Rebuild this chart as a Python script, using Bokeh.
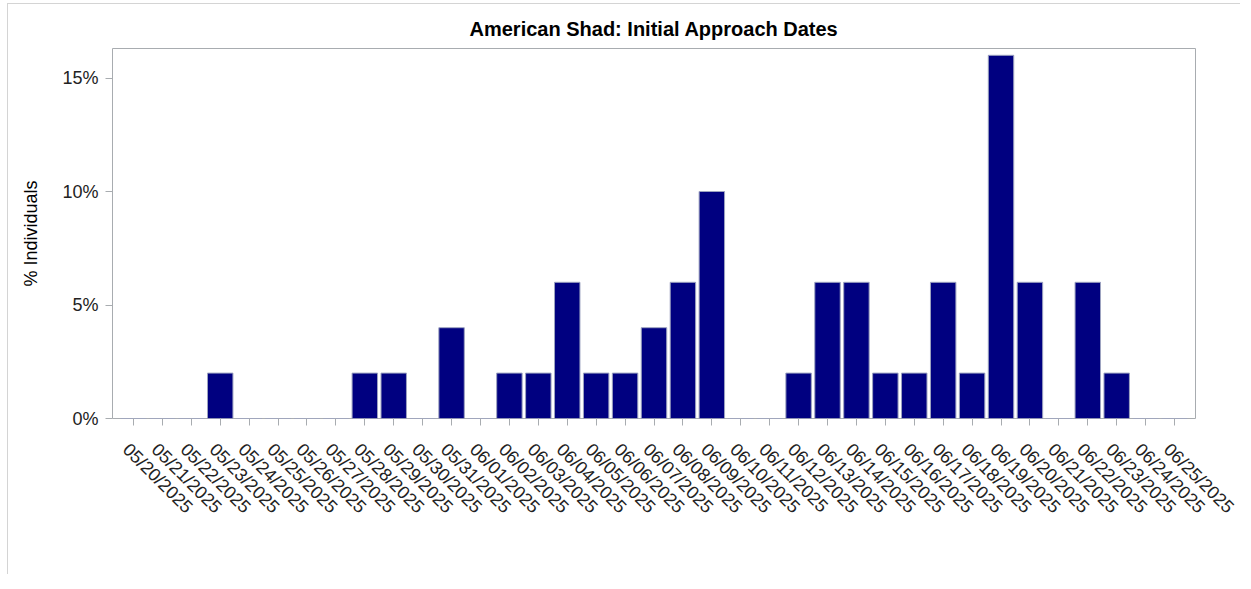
from bokeh.plotting import figure
from bokeh.models import (Range1d, PrintfTickFormatter, FixedTicker,
                          ColumnDataSource, LinearAxis)
from bokeh.embed import file_html
from bokeh.resources import INLINE
import math

dates = ["05/20/2025", "05/21/2025", "05/22/2025", "05/23/2025", "05/24/2025", "05/25/2025",
         "05/26/2025", "05/27/2025", "05/28/2025", "05/29/2025", "05/30/2025", "05/31/2025",
         "06/01/2025", "06/02/2025", "06/03/2025", "06/04/2025", "06/05/2025", "06/06/2025",
         "06/07/2025", "06/08/2025", "06/09/2025", "06/10/2025", "06/11/2025", "06/12/2025",
         "06/13/2025", "06/14/2025", "06/15/2025", "06/16/2025", "06/17/2025", "06/18/2025",
         "06/19/2025", "06/20/2025", "06/21/2025", "06/22/2025", "06/23/2025", "06/24/2025",
         "06/25/2025"]
pct_individuals = [0, 0, 0, 2, 0, 0,
                   0, 0, 2, 2, 0, 4,
                   0, 2, 2, 6, 2, 2,
                   4, 6, 10, 0, 0, 2,
                   6, 6, 2, 2, 6, 2,
                   16, 6, 0, 6, 2, 0,
                   0]
y_ticks = [0, 5, 10, 15]

title_text = "American Shad: Initial Approach Dates"
y_label = "% Individuals"

n = len(dates)
idx = list(range(n))
src = ColumnDataSource(dict(idx=idx, date=dates, pct=pct_individuals))

PAD = 0.45          # total padding around the categories (category units)
SHIFT = 0.26        # label axis offset so rotated labels hang under their ticks

p = figure(
    x_range=Range1d(-0.5 - PAD / 2, n - 0.5 + PAD / 2),
    y_range=Range1d(0, 16.3),
    width=1233, height=571,
    output_backend="svg", toolbar_location=None,
    title=title_text,
    min_border_left=104, min_border_right=46, min_border_top=44, min_border_bottom=157,
)
p.styles = {"border-left": "1px solid #d4d4d4", "border-top": "1px solid #d4d4d4",
            "margin": "3px 0px 0px 7px"}

p.vbar(x="idx", top="pct", width=0.88, source=src,
       fill_color="#000080", line_color="#9da3c0", line_width=1)

p.title.align = "center"
p.title.text_font = "Liberation Sans"
p.title.text_font_size = "20px"
p.title.text_font_style = "bold"
p.title.text_color = "#000000"
p.title.standoff = 17

p.outline_line_color = "#a8acb0"
p.outline_line_width = 1
p.xgrid.grid_line_color = None
p.ygrid.grid_line_color = None
p.background_fill_color = "white"
p.border_fill_color = "white"

gray = "#a8acb0"
for ax in (p.xaxis[0], p.yaxis[0]):
    ax.axis_line_color = None
    ax.major_tick_line_color = gray
    ax.minor_tick_line_color = None
    ax.major_tick_in = 0
    ax.major_tick_out = 7
    ax.major_label_text_font = "Liberation Sans"
    ax.major_label_text_color = "#222222"

# main x axis: tick marks only, one per date
p.xaxis[0].ticker = FixedTicker(ticks=idx)
p.xaxis[0].major_label_overrides = {i: " " for i in idx}
p.xaxis[0].major_label_text_font_size = "1px"
p.xaxis[0].major_label_standoff = 0

# label axis: same scale, offset so the rotated dates start under each tick
p.extra_x_ranges = {"lab": Range1d(-0.5 - PAD / 2 + SHIFT, n - 0.5 + PAD / 2 + SHIFT)}
lab_axis = LinearAxis(x_range_name="lab",
                      ticker=FixedTicker(ticks=idx),
                      major_label_overrides={i: d for i, d in zip(idx, dates)})
lab_axis.axis_line_color = None
lab_axis.major_tick_line_color = None
lab_axis.minor_tick_line_color = None
lab_axis.major_tick_in = 0
lab_axis.major_tick_out = 0
lab_axis.major_label_orientation = -math.pi / 4
lab_axis.major_label_standoff = 17
lab_axis.major_label_text_font = "Liberation Sans"
lab_axis.major_label_text_font_size = "18px"
lab_axis.major_label_text_color = "#222222"
p.add_layout(lab_axis, "below")

p.yaxis.ticker = FixedTicker(ticks=y_ticks)
p.yaxis.formatter = PrintfTickFormatter(format="%d%%")
p.yaxis.major_label_text_font_size = "18px"
p.yaxis.major_label_standoff = 7
p.yaxis.axis_label = y_label
p.yaxis.axis_label_text_font = "Liberation Sans"
p.yaxis.axis_label_text_font_size = "18px"
p.yaxis.axis_label_text_font_style = "normal"
p.yaxis.axis_label_text_color = "#000000"
p.yaxis.axis_label_standoff = 18

open("out.html", "w").write(file_html(p, INLINE))
